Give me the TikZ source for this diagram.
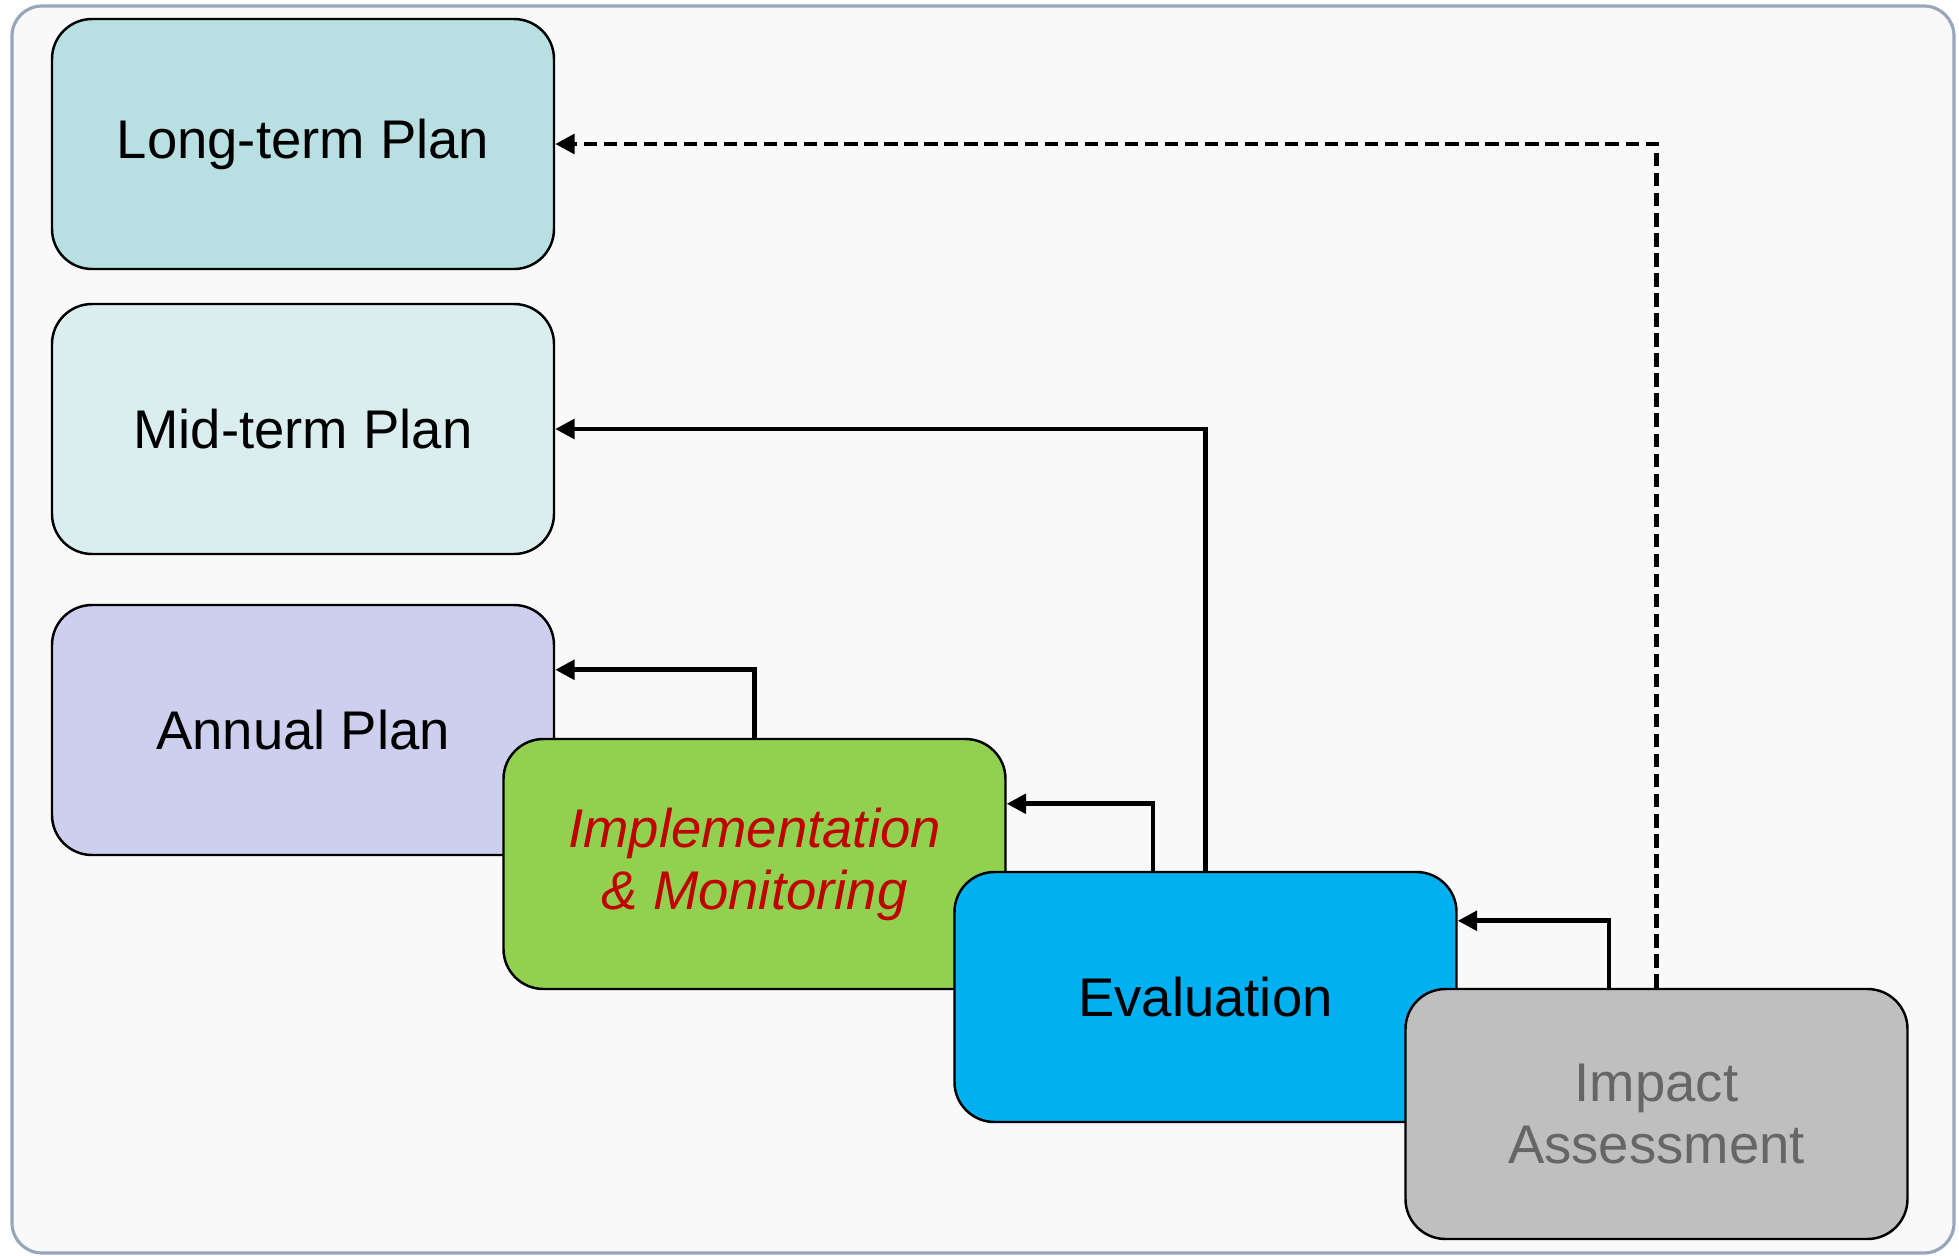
\documentclass[tikz,border=0pt]{standalone}
\usepackage{fontspec}
\setmainfont{Liberation Sans}
\usetikzlibrary{arrows.meta}
\definecolor{longc}{RGB}{184,223,226}
\definecolor{midc}{RGB}{218,238,240}
\definecolor{annualc}{RGB}{205,207,238}
\definecolor{implc}{RGB}{146,208,80}
\definecolor{evalc}{RGB}{0,176,240}
\definecolor{impactc}{RGB}{191,191,191}
\definecolor{impltext}{RGB}{192,0,0}
\definecolor{impacttext}{RGB}{102,102,102}
\definecolor{framec}{RGB}{152,166,186}
\definecolor{bgc}{RGB}{249,249,249}

\begin{document}
\begin{tikzpicture}
\tikzstyle{every node}+=[inner sep=0pt]
\tikzstyle{plan}=[draw=black, line width=0.7pt, rounded corners=0.4cm, minimum width=5.02cm, minimum height=2.5cm, align=center, font=\fontsize{15.5}{17.6}\selectfont]
\tikzstyle{back}=[-{Triangle[length=5.5pt,width=5.5pt]}, line width=1.3pt]
\tikzstyle{dashback}=[back, dash pattern=on 3.8pt off 1.9pt]
\useasboundingbox (0,0) rectangle (19.59,-12.55);
\draw [framec, fill=bgc, line width=0.9pt, rounded corners=0.3cm] (0.12,-0.06) rectangle (19.54,-12.53);
\node [plan, fill=longc] (long) at (3.03,-1.44) {Long-term Plan};
\node [plan, fill=midc] (mid) at (3.03,-4.29) {Mid-term Plan};
\node [plan, fill=annualc] (annual) at (3.03,-7.30) {Annual Plan};
\node [plan, fill=implc, text=impltext, font=\fontsize{15.5}{17.6}\selectfont\itshape] (impl) at (7.545,-8.64) {Implementation\\\& Monitoring};
\node [plan, fill=evalc] (eval) at (12.055,-9.97) {Evaluation};
\node [plan, fill=impactc, text=impacttext] (impact) at (16.565,-11.14) {Impact\\Assessment};
\draw [back] (impl.north) |- ([yshift=-0.66cm]annual.north east);
\draw [back] ([xshift=-0.525cm]eval.north) |- ([yshift=-0.66cm]impl.north east);
\draw [back] ([xshift=-0.475cm]impact.north) |- ([yshift=-0.5cm]eval.north east);
\draw [back] (eval.north) |- (mid.east);
\draw [dashback] (impact.north) |- (long.east);
\end{tikzpicture}
\end{document}
